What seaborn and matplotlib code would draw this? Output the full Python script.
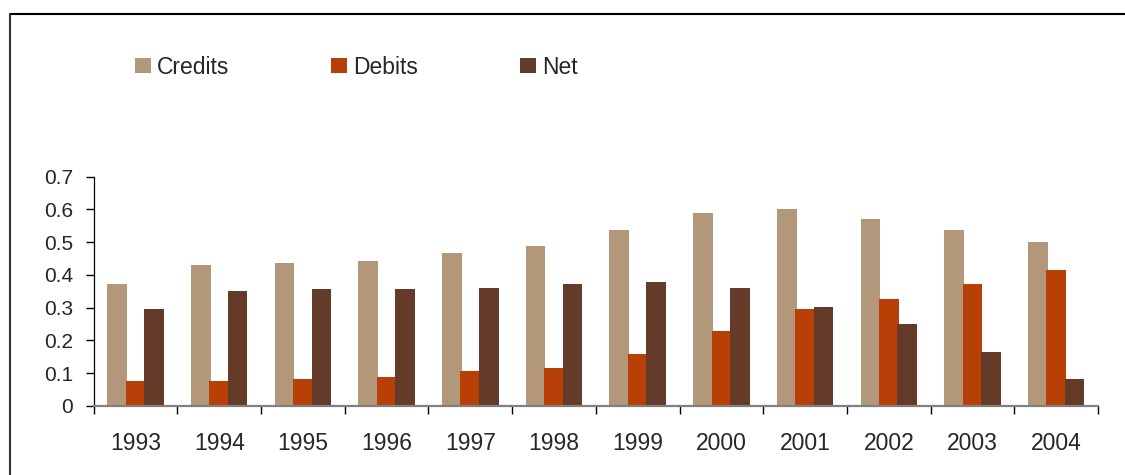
import numpy as np
import pandas as pd
import matplotlib
matplotlib.use("Agg")
import matplotlib.pyplot as plt
from matplotlib.patches import Patch
from matplotlib.lines import Line2D
import seaborn as sns

# Chart data
years = ["1993", "1994", "1995", "1996", "1997", "1998",
         "1999", "2000", "2001", "2002", "2003", "2004"]
credits = [0.373, 0.431, 0.437, 0.443, 0.467, 0.489,
           0.538, 0.590, 0.602, 0.571, 0.538, 0.501]
debits = [0.076, 0.076, 0.083, 0.089, 0.107, 0.116,
          0.159, 0.229, 0.297, 0.327, 0.373, 0.416]
net = [0.297, 0.352, 0.358, 0.358, 0.361, 0.373,
       0.379, 0.361, 0.303, 0.251, 0.165, 0.083]
series_names = ["Credits", "Debits", "Net"]
y_ticks = [0, 0.1, 0.2, 0.3, 0.4, 0.5, 0.6, 0.7]
y_tick_labels = ["0", "0.1", "0.2", "0.3", "0.4", "0.5", "0.6", "0.7"]

colors = {"Credits": "#B3977A", "Debits": "#B84006", "Net": "#643B28"}

df = pd.DataFrame({
    "year": years * 3,
    "value": credits + debits + net,
    "series": [s for s in series_names for _ in years],
})

sns.set_style("white")
plt.rcParams["font.family"] = ["Liberation Sans", "DejaVu Sans"]

fig = plt.figure(figsize=(11.25, 4.75), dpi=100)
ax = fig.add_axes([0.0833, 0.1453, 0.8927, 0.4831])

sns.barplot(data=df, x="year", y="value", hue="series", order=years,
            hue_order=series_names, palette=colors, saturation=1,
            width=0.66, dodge=True, legend=False, ax=ax)

# Slightly overlapping bars within each year group
for p in ax.patches:
    cx = p.get_x() + p.get_width() / 2
    p.set_width(0.235)
    p.set_x(cx - 0.235 / 2)
    p.set_edgecolor("none")
    p.set_linewidth(0)

ax.set_xlim(-0.5, 11.5)
ax.set_ylim(0, 0.7)
ax.set_xlabel("")
ax.set_ylabel("")

ax.set_yticks(y_ticks)
ax.set_yticklabels(y_tick_labels, fontsize=15)
ax.tick_params(axis="y", direction="out", length=5.5, width=1,
               color="black", pad=9.5, left=True)

# Ticks at category boundaries, labels centred on each category
ax.set_xticks(np.arange(-0.5, 12, 1.0))
ax.set_xticklabels([])
ax.set_xticks(np.arange(12), minor=True)
ax.set_xticklabels(years, minor=True, fontsize=16.5)
ax.tick_params(axis="x", which="major", direction="out", length=6,
               width=1, color="black", bottom=True)
ax.tick_params(axis="x", which="minor", length=0, pad=19)

for side in ("top", "right"):
    ax.spines[side].set_visible(False)
ax.spines["left"].set_color("black")
ax.spines["left"].set_linewidth(0.9)
ax.spines["bottom"].set_color("#808080")
ax.spines["bottom"].set_linewidth(1.6)
ax.grid(False)

handles = [Patch(facecolor=colors[s], edgecolor="none", label=s)
           for s in series_names]
fig.legend(handles=handles, loc="center left",
           bbox_to_anchor=(135 / 1125, 1 - 67 / 475), ncol=3,
           frameon=False, fontsize=16.5, borderpad=0, borderaxespad=0,
           handlelength=0.68, handleheight=0.68, handletextpad=0.28,
           columnspacing=4.45)

# Outer chart frame (top and left edges)
frame_x = 10 / 1125
frame_y = 1 - 13.5 / 475
fig.add_artist(Line2D([frame_x, 1.0], [frame_y, frame_y],
                      transform=fig.transFigure, color="black", lw=1.5))
fig.add_artist(Line2D([frame_x, frame_x], [0.0, frame_y],
                      transform=fig.transFigure, color="#333333", lw=1.5))

fig.savefig("out.png", dpi=100)
